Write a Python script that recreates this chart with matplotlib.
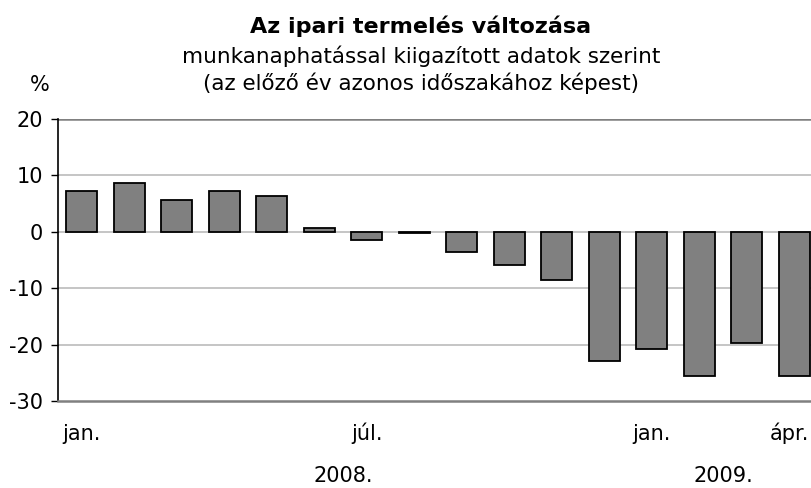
import matplotlib
matplotlib.use("Agg")
import matplotlib.pyplot as plt
from matplotlib.transforms import blended_transform_factory

# Industrial production change, Jan 2008 - Apr 2009 (%, year on year)
months = ["jan.", "febr.", "márc.", "ápr.", "máj.", "jún.", "júl.", "aug.",
          "szept.", "okt.", "nov.", "dec.", "jan.", "febr.", "márc.", "ápr."]
values = [7.2, 8.6, 5.7, 7.2, 6.4, 0.7, -1.4, -0.3,
          -3.6, -5.8, -8.6, -22.9, -20.7, -25.5, -19.7, -25.5]
shown_ticks = [0, 6, 12, 15]
years = ["2008.", "2009."]
year_pos = [5.5, 13.5]
y_ticks = [20, 10, 0, -10, -20, -30]

plt.rcParams["font.family"] = ["DejaVu Sans"]

W, H = 811, 488
fig = plt.figure(figsize=(W / 100, H / 100), dpi=100, facecolor="white")
ax = fig.add_axes([58 / W, 1 - 401 / H, 760 / W, (401 - 119) / H])

x = list(range(len(values)))
ax.bar(x, values, width=0.65, color="#808080", edgecolor="black",
       linewidth=1.3, zorder=3)

ax.set_xlim(-0.5, len(values) - 0.5)
ax.set_ylim(-30, 20)
ax.set_yticks(y_ticks)
ax.set_yticklabels([str(v) for v in y_ticks], fontsize=15)
for v in [10, 0, -10, -20]:
    ax.axhline(v, color="#c0c0c0", linewidth=1.3, zorder=1)
ax.axhline(20, color="#808080", linewidth=1.8, zorder=1)

for s in ["top", "right"]:
    ax.spines[s].set_visible(False)
ax.spines["bottom"].set_color("#808080")
ax.spines["bottom"].set_linewidth(1.8)
ax.spines["left"].set_color("black")
ax.spines["left"].set_linewidth(1.2)
ax.tick_params(axis="y", length=5, width=1, direction="out", pad=6)
ax.set_xticks([])

# month and year labels: data x, figure y (baselines)
tr = blended_transform_factory(ax.transData, fig.transFigure)
for i in shown_ticks:
    if i == len(values) - 1:
        # last label sits at the right edge of the picture
        fig.text(809 / W, 1 - 440 / H, months[i], fontsize=15, ha="right",
                 va="baseline")
    else:
        ax.text(i, 1 - 440 / H, months[i], fontsize=15, ha="center",
                va="baseline", transform=tr, clip_on=False)
for yl, xp in zip(years, year_pos):
    ax.text(xp, 1 - 482 / H, yl, fontsize=15, ha="center",
            va="baseline", transform=tr, clip_on=False)

fig.text(421 / W, 1 - 33 / H, "Az ipari termelés változása", fontsize=16,
         fontweight="bold", ha="center", va="baseline")
fig.text(421 / W, 1 - 63 / H, "munkanaphatással kiigazított adatok szerint",
         fontsize=15.5, ha="center", va="baseline")
fig.text(421 / W, 1 - 90 / H, "(az előző év azonos időszakához képest)",
         fontsize=15.5, ha="center", va="baseline")
fig.text(40 / W, 1 - 85 / H, "%", fontsize=15, ha="center", va="center")

fig.savefig("out.png", dpi=100, facecolor="white")
